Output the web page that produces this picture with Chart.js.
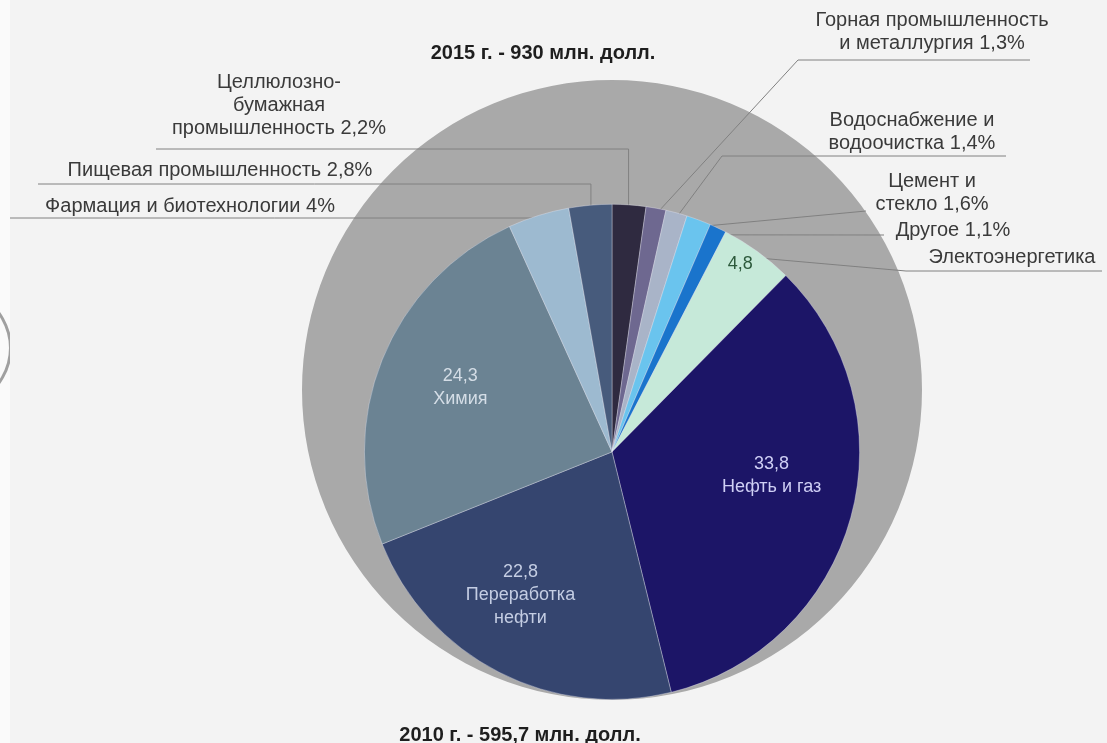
<!DOCTYPE html>
<html>
<head>
<meta charset="utf-8">
<script src="https://cdn.jsdelivr.net/npm/chart.js@4.4.1/dist/chart.umd.min.js"></script>
<style>
  html, body { margin: 0; padding: 0; background: #f3f3f3; }
  #wrap { position: relative; width: 1107px; height: 743px; overflow: hidden; }
  #wrap canvas { position: absolute; left: 0; top: 0; }
  #edge { position: absolute; left: 0; top: 0; width: 10px; height: 743px; background: #fafafa; overflow: hidden; }
  #edge div { position: absolute; left: -200px; top: 270px; width: 206px; height: 150px; border: 3px solid #a0a0a0; border-radius: 50%; }
</style>
</head>
<body>
<div id="wrap">
  <canvas id="grafico2015" width="1107" height="743"></canvas>
  <canvas id="grafico2010" width="1107" height="743"></canvas>
  <div id="edge"><div></div></div>
</div>
<script>
// объём рынка, млн. долл.
const anos = ["2015", "2010"];
const totais = [930, 595.7];

// структура 2010 г., % (по часовой стрелке от верха)
const setores = [
  "Целлюлозно-бумажная промышленность",
  "Горная промышленность и металлургия",
  "Водоснабжение и водоочистка",
  "Цемент и стекло",
  "Другое",
  "Электоэнергетика",
  "Нефть и газ",
  "Переработка нефти",
  "Химия",
  "Фармация и биотехнологии",
  "Пищевая промышленность"
];
const partes = [2.2, 1.3, 1.4, 1.6, 1.1, 4.8, 33.8, 22.8, 24.3, 4, 2.8];
const cores = [
  "#2f2a40", "#6e6890", "#a9b4c8", "#6ac4ee", "#1a74cc", "#c6e9d9",
  "#1c1567", "#35456f", "#6b8393", "#9dbad0", "#475b7c"
];

const W = 1107, H = 743;
const CX = 612, BASE = 700, R2015 = 310;
const R2010 = R2015 * Math.sqrt(totais[1] / totais[0]);

const fmt = (v) => String(v).replace(".", ",");

// подписи снаружи: строки текста + положение + выноска
const externos = [
  { i: 0, linhas: ["Целлюлозно-", "бумажная", "промышленность " + fmt(partes[0]) + "%"], x: 279, y: 82, pts: [[156, 149]], cotovelo: true },
  { i: 10, linhas: ["Пищевая промышленность " + fmt(partes[10]) + "%"], x: 220, y: 170, pts: [[38, 184]], cotovelo: true },
  { i: 9, linhas: ["Фармация и биотехнологии " + fmt(partes[9]) + "%"], x: 190, y: 206, pts: [[8, 218]], cotovelo: true },
  { i: 1, linhas: ["Горная промышленность", "и металлургия " + fmt(partes[1]) + "%"], x: 932, y: 20, pts: [[1030, 60], [798, 60]] },
  { i: 2, linhas: ["Водоснабжение и", "водоочистка " + fmt(partes[2]) + "%"], x: 912, y: 120, pts: [[1006, 156], [722, 156]] },
  { i: 3, linhas: ["Цемент и", "стекло " + fmt(partes[3]) + "%"], x: 932, y: 181, pts: [[866, 211]] },
  { i: 4, linhas: ["Другое " + fmt(partes[4]) + "%"], x: 953, y: 230, pts: [[884, 235]] },
  { i: 5, linhas: ["Электоэнергетика"], x: 1012, y: 257, pts: [[1102, 271], [906, 271]] }
];

// подписи внутри секторов
const internos = [
  { i: 6, linhas: [fmt(partes[6]), "Нефть и газ"], f: 0.66, dx: 2, dy: -20, cor: "#cfcff5" },
  { i: 7, linhas: [fmt(partes[7]), "Переработка", "нефти"], f: 0.66, dx: -17, dy: -2, cor: "#c4cde3" },
  { i: 8, linhas: [fmt(partes[8]), "Химия"], f: 0.66, dx: 0, dy: -4, cor: "#d4dde6" },
  { i: 5, linhas: [fmt(partes[5])], f: 0.91, dx: -4, dy: -5, cor: "#2d5a3c" }
];

function pontoArco(arc, f) {
  const a = (arc.startAngle + arc.endAngle) / 2;
  return { x: arc.x + Math.cos(a) * arc.outerRadius * f, y: arc.y + Math.sin(a) * arc.outerRadius * f };
}

const fonte = '20px "Liberation Sans", Arial, sans-serif';
const fonteInterna = '18px "Liberation Sans", Arial, sans-serif';

const pluginRotulos = {
  id: "rotulos",
  beforeDatasetsDraw(chart) {
    const ctx = chart.ctx;
    const arcs = chart.getDatasetMeta(0).data;
    ctx.save();
    ctx.strokeStyle = "#808080";
    ctx.lineWidth = 1;
    externos.forEach((e) => {
      const p = pontoArco(arcs[e.i], 0.97);
      ctx.beginPath();
      ctx.moveTo(e.pts[0][0], e.pts[0][1]);
      e.pts.slice(1).forEach((q) => ctx.lineTo(q[0], q[1]));
      const ult = e.pts[e.pts.length - 1];
      if (e.cotovelo) ctx.lineTo(p.x, ult[1]);
      ctx.lineTo(p.x, p.y);
      ctx.stroke();
    });
    ctx.restore();
  },
  afterDatasetsDraw(chart) {
    const ctx = chart.ctx;
    const arcs = chart.getDatasetMeta(0).data;
    ctx.save();
    ctx.textAlign = "center";
    ctx.textBaseline = "middle";
    ctx.font = fonte;
    ctx.fillStyle = "#3a3a3a";
    externos.forEach((e) => {
      e.linhas.forEach((t, k) => ctx.fillText(t, e.x, e.y + k * 23));
    });
    ctx.font = fonteInterna;
    internos.forEach((e) => {
      const p = pontoArco(arcs[e.i], e.f);
      ctx.fillStyle = e.cor;
      const h = 23;
      const y0 = p.y + e.dy - ((e.linhas.length - 1) * h) / 2;
      e.linhas.forEach((t, k) => ctx.fillText(t, p.x + e.dx, y0 + k * h));
    });
    ctx.font = 'bold 20px "Liberation Sans", Arial, sans-serif';
    ctx.fillStyle = "#1e1e1e";
    ctx.fillText(anos[0] + " г. - " + fmt(totais[0]) + " млн. долл.", 543, 53);
    ctx.fillText(anos[1] + " г. - " + fmt(totais[1]) + " млн. долл.", 520, 735);
    ctx.restore();
  }
};

const opcoesBase = {
  responsive: false,
  animation: false,
  plugins: { legend: { display: false }, tooltip: { enabled: false } }
};

new Chart(document.getElementById("grafico2015"), {
  type: "pie",
  data: {
    labels: [anos[0]],
    datasets: [{ data: [totais[0]], backgroundColor: "#a9a9a9", borderWidth: 0 }]
  },
  options: {
    ...opcoesBase,
    layout: {
      padding: { left: CX - R2015, right: W - CX - R2015, top: BASE - 2 * R2015, bottom: H - BASE }
    }
  }
});

new Chart(document.getElementById("grafico2010"), {
  type: "pie",
  data: {
    labels: setores,
    datasets: [{
      data: partes,
      backgroundColor: cores,
      borderWidth: 1,
      borderColor: "rgba(235, 235, 245, 0.35)"
    }]
  },
  options: {
    ...opcoesBase,
    layout: {
      padding: { left: CX - R2010, right: W - CX - R2010, top: BASE - 2 * R2010, bottom: H - BASE }
    }
  },
  plugins: [pluginRotulos]
});
</script>
</body>
</html>
